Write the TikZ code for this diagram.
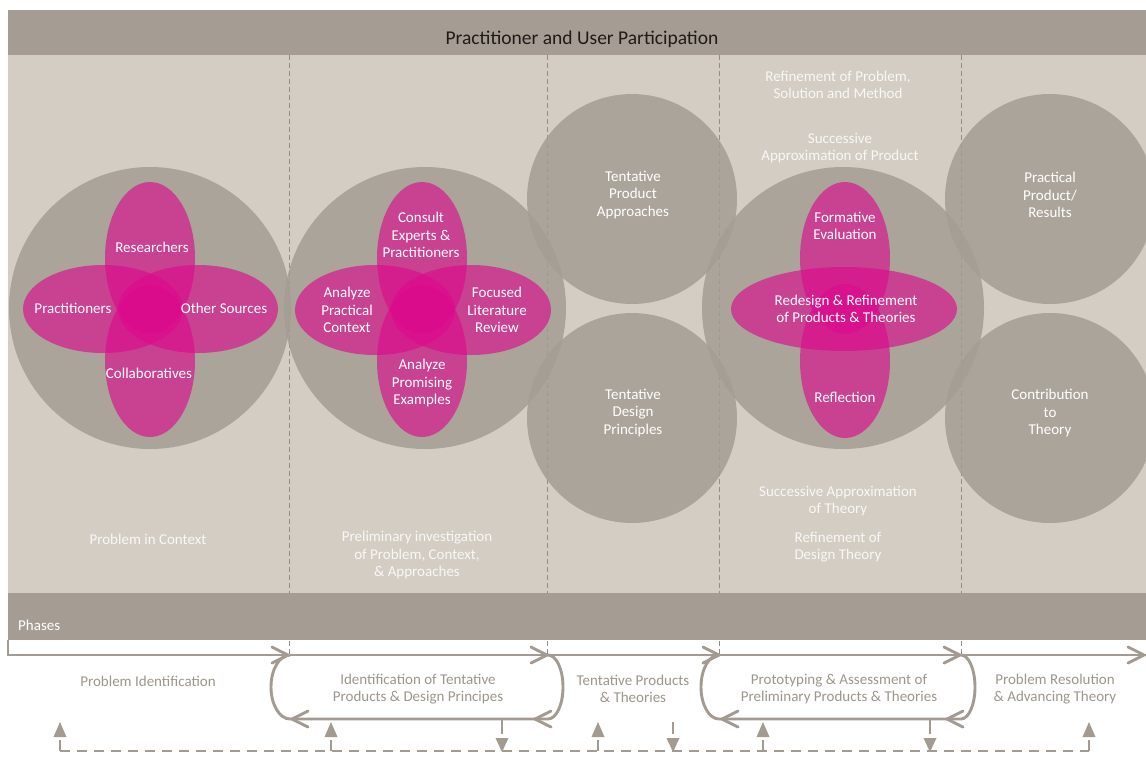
\documentclass[tikz,border=0pt]{standalone}
\usepackage{fontspec}
\setmainfont{Carlito}
\usetikzlibrary{arrows.meta}
\definecolor{barc}{RGB}{165,157,147}
\definecolor{panelc}{RGB}{211,205,196}
\definecolor{circc}{RGB}{164,157,148}
\definecolor{pinkc}{RGB}{220,10,140}
\definecolor{linec}{RGB}{163,155,145}
\definecolor{ltext}{RGB}{158,150,140}
\definecolor{sepc}{RGB}{150,142,133}
\definecolor{titlec}{RGB}{30,27,24}
\begin{document}
\begin{tikzpicture}[x=1pt,y=-1pt,
  lbl/.style={text=white, align=center, font=\fontsize{15}{17.5}\selectfont, inner sep=0pt},
  faint/.style={lbl, text=white!85!panelc},
  titlelbl/.style={text=titlec, font=\fontsize{19.5}{21}\selectfont, inner sep=0pt},
  phase/.style={text=ltext, align=center, font=\fontsize{15}{17}\selectfont, inner sep=0pt},
  bigc/.style={fill=circc, fill opacity=0.85},
  petal/.style={fill=pinkc, fill opacity=0.63},
  sep/.style={draw=sepc, line width=0.8pt, dash pattern=on 5pt off 3pt},
  flow/.style={draw=linec, line width=2.9pt},
  fb/.style={draw=linec, line width=2.9pt, dash pattern=on 10pt off 7pt},
  chevr/.pic={\draw[draw=linec, line width=2.9pt, line cap=round] (-16,-8) -- (0,0) -- (-16,8);},
  chevl/.pic={\draw[draw=linec, line width=2.9pt, line cap=round] (16,-8) -- (0,0) -- (16,8);},
]
\useasboundingbox (0,0) rectangle (1146,758);
\clip (0,0) rectangle (1146,758);
\fill[white] (0,0) rectangle (1146,758);
% panels
\fill[panelc] (8,55) rectangle (1146,593);
\fill[barc] (8,10) rectangle (1146,55);
\fill[barc] (8,593) rectangle (1146,640);
\node[titlelbl] (title) at (582,39) {Practitioner and User Participation};
\node[lbl, anchor=west] (phases) at (18,625) {Phases};
% separators
\foreach \x in {289,547,719,961} {
  \draw[sep] (\x,55) -- (\x,593);
  \draw[sep] (\x,641) -- (\x,654);
}
% big circles
\fill[bigc] (150,308) circle[radius=141pt];
\fill[bigc] (425,308) circle[radius=141pt];
\fill[bigc] (632,199) circle[radius=105pt];
\fill[bigc] (632,418) circle[radius=105pt];
\fill[bigc] (843,308) circle[radius=141pt];
\fill[bigc] (1050,199) circle[radius=105pt];
\fill[bigc] (1050,418) circle[radius=105pt];
% petals group 1
\fill[petal] (150,258) ellipse[x radius=45pt, y radius=76pt];
\fill[petal] (150,361) ellipse[x radius=45pt, y radius=76pt];
\fill[petal] (103,309) ellipse[x radius=80pt, y radius=44pt];
\fill[petal] (198,309) ellipse[x radius=80pt, y radius=44pt];
% petals group 2
\fill[petal] (422,258) ellipse[x radius=45pt, y radius=76pt];
\fill[petal] (422,361) ellipse[x radius=45pt, y radius=76pt];
\fill[petal] (375,310) ellipse[x radius=80pt, y radius=45pt];
\fill[petal] (471,310) ellipse[x radius=80pt, y radius=45pt];
% petals group 3
\fill[petal] (845,258) ellipse[x radius=45pt, y radius=76pt];
\fill[petal] (845,361) ellipse[x radius=45pt, y radius=77pt];
\fill[petal] (844,309) ellipse[x radius=113pt, y radius=42pt];
% texts group 1
\node[lbl] (res) at (152,247) {Researchers};
\node[lbl] (pra) at (73,308) {Practitioners};
\node[lbl] (oth) at (224,308) {Other Sources};
\node[lbl] (col) at (149,373) {Collaboratives};
% texts group 2
\node[lbl] (cons) at (421,235) {Consult\\Experts \&\\Practitioners};
\node[lbl] (apc) at (347,310) {Analyze\\Practical\\Context};
\node[lbl] (flr) at (497,310) {Focused\\Literature\\Review};
\node[lbl] (ape) at (422,383) {Analyze\\Promising\\Examples};
% texts group 3
\node[lbl] (form) at (845,226) {Formative\\Evaluation};
\node[lbl] (rede) at (846,309) {Redesign \& Refinement\\of Products \& Theories};
\node[lbl] (refl) at (845,397) {Reflection};
% small circles
\node[lbl] (tpa) at (633,195) {Tentative\\Product\\Approaches};
\node[lbl] (tdp) at (633,413) {Tentative\\Design\\Principles};
\node[lbl] (ppr) at (1050,195) {Practical\\Product/\\Results};
\node[lbl] (ctt) at (1050,413) {Contribution\\to\\Theory};
% panel texts
\node[faint] (rpsm) at (838,85) {Refinement of Problem,\\Solution and Method};
\node[faint] (sap) at (840,148) {Successive\\Approximation of Product};
\node[faint] (sat) at (838,501) {Successive Approximation\\of Theory};
\node[faint] (rdt) at (838,547) {Refinement of\\Design Theory};
\node[faint] (pic) at (148,539) {Problem in Context};
\node[faint] (pip) at (417,555) {Preliminary investigation\\of Problem, Context,\\\& Approaches};
% phase texts
\node[phase] (ph1) at (148,681) {Problem Identification};
\node[phase] (ph2) at (418,689) {Identification of Tentative\\Products \& Design Principes};
\node[phase] (ph3) at (633,689) {Tentative Products\\\& Theories};
\node[phase] (ph4) at (839,689) {Prototyping \& Assessment of\\Preliminary Products \& Theories};
\node[phase] (ph5) at (1055,689) {Problem Resolution\\\& Advancing Theory};
% main flow line
\coordinate (fs) at (8,640);
\coordinate (fc) at (8,655);
\coordinate (fe) at (1146,655);
\draw[flow] (fs) -- (fc) -- (fe);
% loop 1
\coordinate (l1a) at (290,655);
\coordinate (l1b) at (548,719);
\draw[flow] (l1a) arc[start angle=90, end angle=270, x radius=19pt, y radius=32pt] -- (l1b)
  arc[start angle=-90, end angle=90, x radius=15pt, y radius=32pt];
% loop 2
\coordinate (l2a) at (719,655);
\coordinate (l2b) at (961,719);
\draw[flow] (l2a) arc[start angle=90, end angle=270, x radius=18pt, y radius=32pt] -- (l2b)
  arc[start angle=-90, end angle=90, x radius=14pt, y radius=32pt];
% chevrons
\pic at (288,655) {chevr};
\pic at (547,655) {chevr};
\pic at (719,655) {chevr};
\pic at (960,655) {chevr};
\pic at (1144,655) {chevr};
\pic at (292,719) {chevl};
\pic at (535,719) {chevl};
\pic at (722,719) {chevl};
\pic at (947,719) {chevl};
% feedback dashed line
\coordinate (fbl) at (60,751);
\coordinate (fbr) at (1089,751);
\draw[fb] (fbl) -- (fbr);
% up arrows
\foreach \x in {60,331,598,763,1089} {
  \draw[draw=linec, line width=2.9pt] (\x,751) -- (\x,740);
  \fill[linec] (\x-6.5,737) -- (\x,722) -- (\x+6.5,737) -- cycle;
}
% down arrows
\foreach \x/\t in {502/720,673/722,930/720} {
  \draw[draw=linec, line width=2.9pt] (\x,\t) -- (\x,734);
  \fill[linec] (\x-6.5,738) -- (\x,752) -- (\x+6.5,738) -- cycle;
}
\end{tikzpicture}
\end{document}
